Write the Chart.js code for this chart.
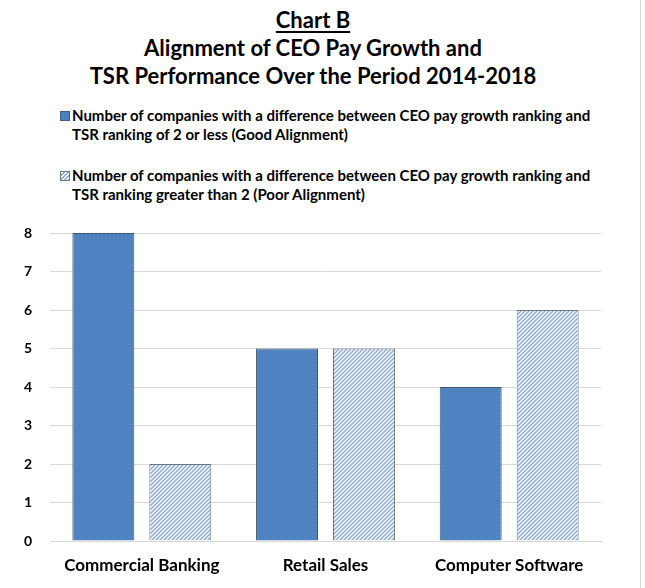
<!DOCTYPE html>
<html>
<head>
<meta charset="utf-8">
<script src="https://cdn.jsdelivr.net/npm/chart.js@4.4.1/dist/chart.umd.min.js"></script>
<style>
  html, body { margin: 0; padding: 0; background: #fff; }
  body { width: 645px; height: 588px; position: relative; overflow: hidden; font-family: Lato, "Open Sans", sans-serif; }
  #frame { position: absolute; left: 640px; top: 0; width: 1px; height: 588px; background: #d6d6d6; }
  #title { position: absolute; left: 0; top: 6px; width: 626px; text-align: center; font-weight: bold; font-size: 22px; line-height: 28px; color: #000; }
  #title u { text-decoration-thickness: 2px; text-underline-offset: 3px; }
  #legend { position: absolute; left: 60px; top: 106px; width: 540px; }
  .item { position: relative; padding-left: 12px; font-weight: bold; font-size: 15px; line-height: 19px; color: #000; margin-bottom: 22px; }
  .box { position: absolute; left: 0; top: 5px; width: 8px; height: 8px; border: 1px solid #5a6a80; }
  #wrap { position: absolute; left: 0; top: 0; width: 645px; height: 588px; }
</style>
</head>
<body>
<div id="frame"></div>
<div id="title"><u>Chart B</u><br>Alignment of CEO Pay Growth and<br>TSR Performance Over the Period 2014-2018</div>
<div id="legend"></div>
<div id="wrap"><canvas id="chart" width="645" height="588"></canvas></div>
<script>
        const categories = ['Commercial Banking', 'Retail Sales', 'Computer Software'];
        const goodAlignment = [8, 5, 4];
        const poorAlignment = [2, 5, 6];
        const yTicks = [0, 1, 2, 3, 4, 5, 6, 7, 8];
        const seriesLabels = [
            'Number of companies with a difference between CEO pay growth ranking and TSR ranking of 2 or less (Good Alignment)',
            'Number of companies with a difference between CEO pay growth ranking and TSR ranking greater than 2 (Poor Alignment)'
        ];

        // small dotted blue texture like the Excel fill
        function dottedPattern(ctx) {
            const c = document.createElement('canvas');
            c.width = 4; c.height = 4;
            const g = c.getContext('2d');
            g.fillStyle = '#4d80bf';
            g.fillRect(0, 0, 4, 4);
            g.fillStyle = '#6592cb';
            g.fillRect(0, 0, 1, 1);
            g.fillRect(2, 2, 1, 1);
            return ctx.createPattern(c, 'repeat');
        }

        // light blue "/" stripes on white
        function hatchPattern(ctx) {
            const s = 4;
            const c = document.createElement('canvas');
            c.width = s; c.height = s;
            const g = c.getContext('2d');
            g.fillStyle = '#ffffff';
            g.fillRect(0, 0, s, s);
            g.strokeStyle = '#8caad6';
            g.lineWidth = 1.5;
            g.beginPath();
            g.moveTo(0, s); g.lineTo(s, 0);
            g.moveTo(-1, 1); g.lineTo(1, -1);
            g.moveTo(s - 1, s + 1); g.lineTo(s + 1, s - 1);
            g.stroke();
            return ctx.createPattern(c, 'repeat');
        }

        const ctx = document.getElementById('chart').getContext('2d');

        const legend = document.getElementById('legend');
        const boxStyles = [
            'background:#4d80bf;border-color:#3d5f8a',
            'background:repeating-linear-gradient(135deg,#fff 0 1.5px,#8caad6 1.5px 3px);border-color:#6a7a90'
        ];
        seriesLabels.forEach(function(label, i) {
            const d = document.createElement('div');
            d.className = 'item';
            d.innerHTML = '<span class="box" style="' + boxStyles[i] + '"></span>' + label;
            legend.appendChild(d);
        });

        new Chart(ctx, {
            type: 'bar',
            data: {
                labels: categories,
                datasets: [{
                    label: seriesLabels[0],
                    data: goodAlignment,
                    backgroundColor: dottedPattern(ctx),
                    borderColor: '#44546a',
                    borderWidth: 1,
                    categoryPercentage: 0.838,
                    barPercentage: 0.805
                }, {
                    label: seriesLabels[1],
                    data: poorAlignment,
                    backgroundColor: hatchPattern(ctx),
                    borderColor: '#6b7585',
                    borderWidth: 1,
                    categoryPercentage: 0.838,
                    barPercentage: 0.805
                }]
            },
            options: {
                responsive: false,
                animation: false,
                layout: {
                    padding: { top: 233, right: 44, left: 0, bottom: 0 }
                },
                plugins: {
                    legend: { display: false },
                    tooltip: { enabled: false }
                },
                scales: {
                    x: {
                        grid: { display: false, drawTicks: false },
                        border: { color: '#d9d9d9', width: 1 },
                        ticks: {
                            color: '#000',
                            padding: 14,
                            font: { family: 'Lato', size: 17, weight: 'bold' }
                        },
                        afterFit: function(s) { s.height = 47; }
                    },
                    y: {
                        min: 0,
                        max: 8,
                        afterBuildTicks: function(s) { s.ticks = yTicks.map(function(v) { return { value: v }; }); },
                        grid: { color: '#d9d9d9', drawTicks: false },
                        border: { display: false },
                        ticks: {
                            color: '#000',
                            padding: 18,
                            font: { family: 'Lato', size: 14, weight: 'bold' }
                        },
                        afterFit: function(s) { s.width = 50; }
                    }
                }
            }
        });
</script>
</body>
</html>
